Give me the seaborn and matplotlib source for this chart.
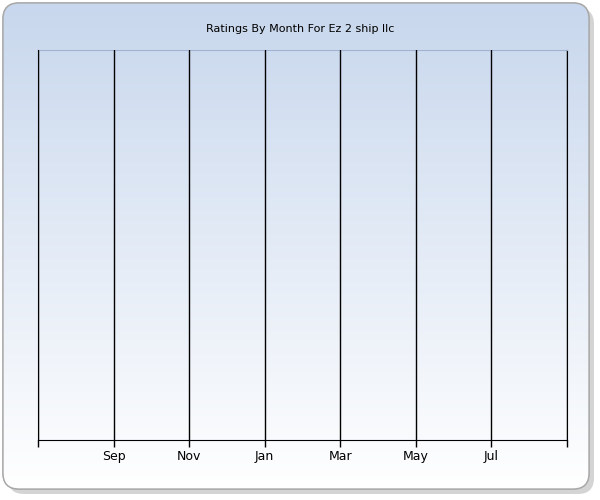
import numpy as np
import matplotlib
matplotlib.use("Agg")
import matplotlib.pyplot as plt
import seaborn as sns
from matplotlib.patches import FancyBboxPatch

title = "Ratings By Month For Ez 2 ship llc"
tick_labels = ["", "Sep", "Nov", "Jan", "Mar", "May", "Jul", ""]
ratings = []  # no ratings recorded

sns.set_style("white")
plt.rcParams['font.family'] = ['DejaVu Sans']

fig = plt.figure(figsize=(6, 5), dpi=100)
fig.patch.set_facecolor("white")

# rounded outer frame with gradient
bg = fig.add_axes([0, 0, 1, 1], zorder=-2)
bg.set_xlim(0, 600); bg.set_ylim(500, 0); bg.axis("off")
shadow = FancyBboxPatch((8, 8), 586, 486, boxstyle="round,pad=0,rounding_size=16",
                        fc="#b8b8b8", ec="none", alpha=0.6)
bg.add_patch(shadow)
frame = FancyBboxPatch((3, 3), 586, 486, boxstyle="round,pad=0,rounding_size=16",
                       fc="none", ec="#a9a9a9", lw=1)
bg.add_patch(frame)
grad = np.linspace(0, 1, 256).reshape(-1, 1)
cmap = matplotlib.colors.LinearSegmentedColormap.from_list("g", ["#c8d7ed", "#ffffff"])
im = bg.imshow(grad, cmap=cmap, extent=[3, 589, 489, 3], aspect="auto", zorder=1)
im.set_clip_path(frame)
bg.add_patch(FancyBboxPatch((3, 3), 586, 486, boxstyle="round,pad=0,rounding_size=16",
                            fc="none", ec="#a9a9a9", lw=1, zorder=2))

ax = fig.add_axes([38 / 600, 1 - 440 / 500, 529 / 600, 390 / 500])
ax.patch.set_alpha(0)
sns.lineplot(x=list(range(len(ratings))), y=ratings, ax=ax)
ax.set_xlim(0, len(tick_labels) - 1)
ax.set_ylim(0, 1)
ax.set_xticks(range(len(tick_labels)))
ax.set_xticklabels(tick_labels, fontsize=9, color="black")
ax.set_yticks([])
ax.tick_params(axis="x", bottom=True, length=5, width=1, color="black", direction="out", pad=2)
ax.grid(axis="x", color="black", lw=1)
ax.spines["left"].set_color("black")
ax.spines["right"].set_color("black")
ax.spines["top"].set_color("#a0b4d0")
ax.spines["bottom"].set_color("black")
ax.set_axisbelow(False)

fig.text(0.5, 1 - 29 / 500, title, ha="center", va="center", fontsize=8, color="black")
fig.savefig("out.png", dpi=100)
